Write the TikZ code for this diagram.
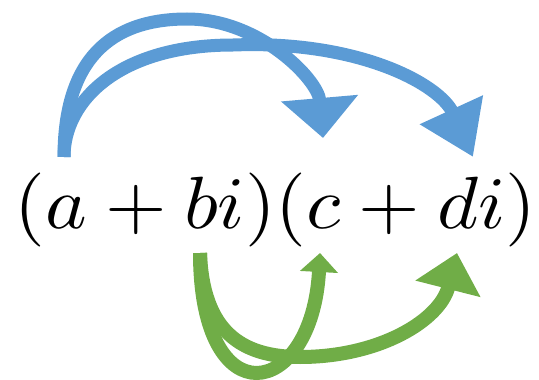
\documentclass[tikz,border=0pt]{standalone}
\usepackage{graphicx}
\usetikzlibrary{arrows.meta,positioning}
\definecolor{blu}{HTML}{5B9BD5}
\definecolor{grn}{HTML}{70AD47}
\newcommand{\glyph}[1]{\scalebox{7.9}[7.4]{$#1$}}
\tikzset{
  sym/.style={inner sep=0pt,outer sep=0pt},
  barc/.style={line width=13pt,draw=blu},
  garc/.style={line width=14pt,draw=grn},
}

\begin{document}
\begin{tikzpicture}[x=1pt,y=-1pt]
\useasboundingbox (0,0) rectangle (539,380);
% the product
\node[sym,anchor=base west] (lp1) at (15,228) {\glyph{(}};
\node[sym,base right=0pt of lp1] (a) {\glyph{a}};
\node[sym,base right=0pt of a] (p1) {\glyph{{}+{}}};
\node[sym,base right=0pt of p1] (b) {\glyph{b}};
\node[sym,base right=0pt of b] (i1) {\glyph{i}};
\node[sym,base right=0pt of i1] (rp1) {\glyph{)}};
\node[sym,base right=0pt of rp1] (lp2) {\glyph{(}};
\node[sym,base right=0pt of lp2] (c) {\glyph{c}};
\node[sym,base right=0pt of c] (p2) {\glyph{{}+{}}};
\node[sym,base right=0pt of p2] (d) {\glyph{d}};
\node[sym,base right=0pt of d] (i2) {\glyph{i}};
\node[sym,base right=0pt of i2] (rp2) {\glyph{)}};
% blue: a times c, a times d
\coordinate (bs) at (64,157);
\coordinate (bc) at (323,138);
\coordinate (bd) at (473,157);
\draw[barc,-{Triangle[quick,length=40pt,width=75pt]}] (bs) .. controls (64,60) and (110,19) .. (187,19)
  .. controls (260,19) and (318,80) .. (bc);
\draw[barc,-{Triangle[quick,length=52pt,width=66pt]}] (bs) .. controls (64,100) and (120,45) .. (233,45)
  .. controls (360,40) and (440,85) .. (bd);
% green: bi times c, bi times di
\coordinate (gs) at (200,253);
\coordinate (gc) at (320,253);
\coordinate (gd) at (457,253);
\draw[garc,-{Triangle[quick,length=19pt,width=37pt]}] (gs) .. controls (200,420) and (312,400) .. (gc);
\draw[garc,-{Triangle[quick,length=37pt,width=65pt]}] (gs) .. controls (203,330) and (240,357) .. (300,357)
  .. controls (380,357) and (440,320) .. (gd);
\end{tikzpicture}
\end{document}
